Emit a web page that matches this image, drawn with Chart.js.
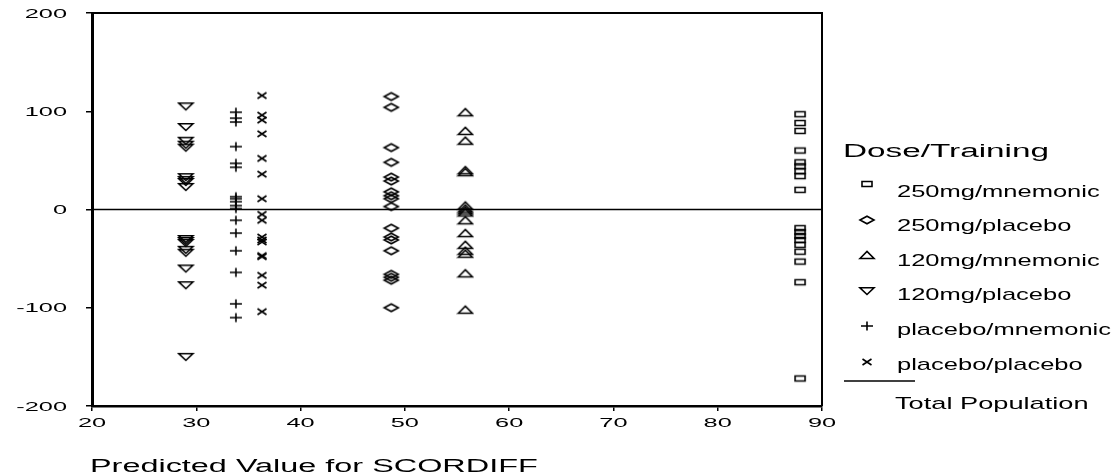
<!DOCTYPE html>
<html>
<head>
<meta charset="utf-8">
<script src="https://cdn.jsdelivr.net/npm/chart.js@4"></script>
<style>
  html, body { margin: 0; padding: 0; background: #fff; }
  #wrap { width: 1118px; height: 474px; position: relative; }
</style>
</head>
<body>
<div id="wrap"><canvas id="c" width="1118" height="474"></canvas></div>
<script>
// Predicted SCORDIFF value shared by every subject of a Dose/Training group
const predicted250Mnemonic = 87.9;
const predicted250Placebo = 48.7;
const predicted120Mnemonic = 55.8;
const predicted120Placebo = 29.0;
const predictedPlaceboMnemonic = 33.8;
const predictedPlaceboPlacebo = 36.3;

// Residuals (observed minus predicted SCORDIFF) per group
const residual250Mnemonic = [97, 88, 80, 60, 48, 44, 39, 34, 20, -19, -23, -27, -31, -36, -43, -53, -74, -172];
const residual250Placebo = [115, 104, 63, 48, 33, 29, 18, 14, 11, 3, -19, -28, -31, -42, -66, -69, -72, -100];
const residual120Mnemonic = [99, 80, 70, 40, 38, 4, 1, -1, -3, -11, -24, -36, -42, -45, -65, -102];
const residual120Placebo = [105, 84, 70, 66, 63, 33, 30, 28, 23, -30, -32, -34, -41, -44, -60, -77, -150];
const residualPlaceboMnemonic = [99, 93, 89, 64, 47, 43, 13, 11, 8, 4, 1, -11, -24, -42, -64, -96, -110];
const residualPlaceboPlacebo = [116, 96, 91, 77, 52, 36, 11, -5, -11, -28, -31, -33, -47, -48, -67, -77, -104];

const groupLabels = ['250mg/mnemonic', '250mg/placebo', '120mg/mnemonic', '120mg/placebo', 'placebo/mnemonic', 'placebo/placebo'];
const totalPopulationLabel = 'Total Population';
const totalPopulationResidual = 0;

const legendTitle = 'Dose/Training';
const xAxisTitle = 'Predicted Value for SCORDIFF';
const xTickValues = [20, 30, 40, 50, 60, 70, 80, 90];
const yTickValues = [-200, -100, 0, 100, 200];

const FONT = '"Liberation Sans", Arial, sans-serif';
Chart.defaults.font.family = FONT;

// Hollow, slightly flattened marker glyphs
function marker(kind) {
  const w = 18, h = 12;
  const c = document.createElement('canvas');
  c.width = w; c.height = h;
  const g = c.getContext('2d');
  g.strokeStyle = '#000';
  g.lineWidth = 1.6;
  const cx = w / 2, cy = h / 2;
  g.beginPath();
  switch (kind) {
    case 'square':
      g.rect(cx - 5, cy - 2.5, 10, 5); break;
    case 'diamond':
      g.moveTo(cx - 7, cy); g.lineTo(cx, cy - 3.8); g.lineTo(cx + 7, cy); g.lineTo(cx, cy + 3.8); g.closePath(); break;
    case 'triUp':
      g.moveTo(cx - 7, cy + 3.5); g.lineTo(cx, cy - 3.5); g.lineTo(cx + 7, cy + 3.5); g.closePath(); break;
    case 'triDown':
      g.moveTo(cx - 7, cy - 3.2); g.lineTo(cx, cy + 3.5); g.lineTo(cx + 7, cy - 3.2); g.closePath(); break;
    case 'plus':
      g.moveTo(cx - 6, cy); g.lineTo(cx + 6, cy); g.moveTo(cx, cy - 4.5); g.lineTo(cx, cy + 4.5); break;
    case 'cross':
      g.moveTo(cx - 4.5, cy - 3); g.lineTo(cx + 4.5, cy + 3); g.moveTo(cx - 4.5, cy + 3); g.lineTo(cx + 4.5, cy - 3); break;
  }
  g.stroke();
  return c;
}

const groups = [
  { x: predicted250Mnemonic, r: residual250Mnemonic, m: 'square' },
  { x: predicted250Placebo, r: residual250Placebo, m: 'diamond' },
  { x: predicted120Mnemonic, r: residual120Mnemonic, m: 'triUp' },
  { x: predicted120Placebo, r: residual120Placebo, m: 'triDown' },
  { x: predictedPlaceboMnemonic, r: residualPlaceboMnemonic, m: 'plus' },
  { x: predictedPlaceboPlacebo, r: residualPlaceboPlacebo, m: 'cross' }
];

const datasets = groups.map((gr, i) => ({
  type: 'scatter',
  label: groupLabels[i],
  data: gr.r.map(v => ({ x: gr.x, y: v })),
  pointStyle: marker(gr.m),
  pointRadius: 5,
  borderColor: '#000',
  backgroundColor: '#000'
}));

datasets.push({
  type: 'line',
  label: totalPopulationLabel,
  data: [
    { x: xTickValues[0], y: totalPopulationResidual },
    { x: xTickValues[xTickValues.length - 1], y: totalPopulationResidual }
  ],
  borderColor: '#000',
  borderWidth: 1.5,
  pointRadius: 0,
  fill: false
});

function stretchText(ctx, text, x, y, size, sx, align) {
  ctx.save();
  ctx.font = size + 'px ' + FONT;
  ctx.fillStyle = '#000';
  ctx.textBaseline = 'alphabetic';
  ctx.textAlign = 'left';
  const w = ctx.measureText(text).width * sx;
  const left = align === 'center' ? x - w / 2 : align === 'right' ? x - w : x;
  ctx.translate(left, y);
  ctx.scale(sx, 1);
  ctx.fillText(text, 0, 0);
  ctx.restore();
}

// Frame on the top and right of the plot area
const framePlugin = {
  id: 'frame',
  afterDatasetsDraw(chart) {
    const { ctx, chartArea: a } = chart;
    ctx.save();
    ctx.strokeStyle = '#000';
    ctx.lineWidth = 2;
    ctx.beginPath();
    ctx.moveTo(a.left, a.top);
    ctx.lineTo(a.right, a.top);
    ctx.lineTo(a.right, a.bottom);
    ctx.stroke();
    ctx.restore();
  }
};

// Tick labels, axis title and the Dose/Training key
const textPlugin = {
  id: 'texts',
  afterDraw(chart) {
    const { ctx, scales } = chart;
    const xs = scales.x, ys = scales.y;
    xs.ticks.forEach(t => {
      stretchText(ctx, String(t.value), xs.getPixelForValue(t.value), 427, 13, 1.95, 'center');
    });
    ys.ticks.forEach(t => {
      stretchText(ctx, String(t.value), 67, ys.getPixelForValue(t.value) + 4.5, 13, 1.95, 'right');
    });
    stretchText(ctx, xAxisTitle, 90, 471.5, 18, 1.8, 'left');

    stretchText(ctx, legendTitle, 843, 156.5, 18, 1.85, 'left');
    const groupSets = chart.data.datasets.filter(d => d.type === 'scatter');
    groupSets.forEach((d, i) => {
      const my = 184 + i * 35.5;
      const img = d.pointStyle;
      ctx.drawImage(img, Math.round(867 - img.width / 2), Math.round(my - img.height / 2));
      stretchText(ctx, d.label, 897, 196.5 + i * 34.6, 17, 1.5, 'left');
    });
    const lineSet = chart.data.datasets.find(d => d.type === 'line');
    ctx.save();
    ctx.strokeStyle = lineSet.borderColor;
    ctx.lineWidth = lineSet.borderWidth;
    ctx.beginPath();
    ctx.moveTo(844, 381);
    ctx.lineTo(915, 381);
    ctx.stroke();
    ctx.restore();
    stretchText(ctx, lineSet.label, 895, 408.5, 17, 1.6, 'left');
  }
};

new Chart(document.getElementById('c'), {
  data: { datasets },
  options: {
    responsive: false,
    animation: false,
    layout: { padding: { left: 0, right: 296, top: 13, bottom: 0 } },
    plugins: { legend: { display: false }, tooltip: { enabled: false }, title: { display: false } },
    scales: {
      x: {
        type: 'linear',
        position: 'bottom',
        min: xTickValues[0],
        max: xTickValues[xTickValues.length - 1],
        afterBuildTicks: s => { s.ticks = xTickValues.map(v => ({ value: v })); },
        ticks: { display: false },
        grid: { display: true, drawOnChartArea: false, drawTicks: true, tickLength: 5, color: '#000', lineWidth: 1.5 },
        border: { display: true, color: '#000', width: 2.5 },
        afterFit: s => { s.height = 68; }
      },
      y: {
        type: 'linear',
        position: 'left',
        min: yTickValues[0],
        max: yTickValues[yTickValues.length - 1],
        afterBuildTicks: s => { s.ticks = yTickValues.map(v => ({ value: v })); },
        ticks: { display: false },
        grid: { display: true, drawOnChartArea: false, drawTicks: true, tickLength: 6, color: '#000', lineWidth: 1.5 },
        border: { display: true, color: '#000', width: 3 },
        afterFit: s => { s.width = 92; }
      }
    }
  },
  plugins: [framePlugin, textPlugin]
});
</script>
</body>
</html>
